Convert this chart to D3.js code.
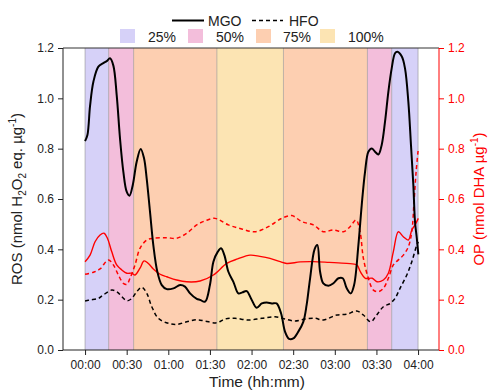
<!DOCTYPE html>
<html><head><meta charset="utf-8">
<script src="https://cdn.jsdelivr.net/npm/d3@7"></script>
<style>
body{margin:0;background:#fff;}
svg{display:block;font-family:Arial,"Liberation Sans",sans-serif;}
</style></head>
<body><svg id="c" width="488" height="390"></svg>
<script>
// ---- data (time in minutes) ----
const bandStarts = [0, 17, 35, 95, 143, 203.5, 221];
const bandEnds   = [17, 35, 95, 143, 203.5, 221, 240];
const bandLoads  = ["25%", "50%", "75%", "100%", "75%", "50%", "25%"];
const loadLabels = ["25%", "50%", "75%", "100%"];
const loadColors = ["#d6d1f8", "#f3bedb", "#fdcfb1", "#fce4b3"];

const mgoRosT = [0,1.7,3.6,6,9.6,13.2,15.6,18,20.4,22.8,25.2,27.6,30,32,34.4,37.2,40.1,42.5,44.4,46.8,49.2,52.1,55.3,58.9,63.7,68.5,72,75.7,80.5,82.9,86.5,90,92.5,95.6,98,100.4,103.3,106.9,110.5,113.4,116.5,119.6,123.7,127.4,130.9,134.6,138,141.3,144.1,147,150.1,153.7,157.3,159.7,162.2,165.4,167.4,169.4,171.7,175.4,179,182.6,185.7,188.6,191.5,193.9,197,199.4,201.8,204.2,206.6,209,211.4,213.8,216.2,218.6,221,223.4,225.1,228.3,230.6,233,234.9,236.6,237.8,239.1,240.2];
const mgoRosV = [0.83,0.854,0.97,1.066,1.126,1.14,1.148,1.159,1.13,1.013,0.84,0.708,0.629,0.613,0.656,0.748,0.799,0.762,0.682,0.55,0.417,0.311,0.258,0.242,0.245,0.258,0.252,0.225,0.203,0.199,0.192,0.258,0.351,0.39,0.404,0.377,0.311,0.271,0.225,0.229,0.234,0.205,0.168,0.185,0.189,0.185,0.185,0.145,0.073,0.044,0.046,0.073,0.112,0.179,0.285,0.4,0.417,0.311,0.265,0.255,0.265,0.285,0.285,0.245,0.225,0.258,0.417,0.576,0.708,0.788,0.801,0.788,0.777,0.815,0.907,1.026,1.119,1.179,1.185,1.166,1.119,0.987,0.815,0.656,0.51,0.444,0.38];

const hfoRosT = [0,3.6,9.6,13.2,19.2,22.8,30.1,33.7,37.3,40.9,44.5,48.1,52.8,60,66.1,73.3,80.5,86.5,94.9,100.9,108.1,117.7,127.4,136.9,144.1,151.4,158.6,165.8,171.7,181.4,188.6,195.8,200.6,205.9,210.2,215,219.8,223.4,227,231.9,235.5,239.1,240.2];
const hfoRosV = [0.195,0.199,0.205,0.219,0.238,0.232,0.196,0.205,0.232,0.249,0.225,0.172,0.126,0.106,0.102,0.112,0.12,0.115,0.108,0.123,0.126,0.119,0.126,0.132,0.123,0.115,0.123,0.126,0.119,0.139,0.142,0.155,0.139,0.112,0.139,0.172,0.185,0.205,0.245,0.298,0.351,0.417,0.43];

const mgoOpT = [0,3.6,7.2,10.8,13.7,16.1,19.2,22.8,26.5,30.1,33.7,36,39.6,42.5,45.6,49.2,54.1,58.9,66.1,73.3,82.9,92.5,102.1,110,118.9,126,133.3,140,145.4,155,164.5,176,188.6,195.8,198.5,202,207,210.4,215,218.6,222.2,225.8,229.4,233,235.5,237.8,240.2];
const mgoOpV = [0.351,0.377,0.43,0.457,0.464,0.444,0.391,0.338,0.318,0.305,0.305,0.298,0.325,0.354,0.344,0.322,0.301,0.291,0.278,0.271,0.274,0.298,0.344,0.362,0.377,0.372,0.364,0.352,0.344,0.35,0.351,0.348,0.344,0.338,0.31,0.285,0.285,0.271,0.278,0.305,0.391,0.47,0.45,0.437,0.477,0.497,0.523];

const hfoOpT = [0,6,10.8,16.8,20.4,24,27.6,30.1,32.4,36,39.6,44.5,49.2,58.9,66.1,73.3,80.5,86.5,93.7,103.3,112.9,122.5,132.1,141.8,149,156.2,164.5,171.7,179,186.2,191,195.3,198.2,200.6,204.2,207.8,211.4,215,218.6,222.2,225.8,229.4,233,235.5,237.1,238.6,240.2];
const hfoOpV = [0.301,0.309,0.322,0.358,0.338,0.298,0.265,0.261,0.285,0.338,0.404,0.437,0.444,0.446,0.444,0.464,0.497,0.513,0.523,0.497,0.481,0.47,0.49,0.523,0.534,0.51,0.497,0.47,0.477,0.47,0.49,0.517,0.47,0.364,0.285,0.238,0.232,0.245,0.285,0.338,0.358,0.377,0.41,0.47,0.589,0.708,0.801];

const xMajor = [0,30,60,90,120,150,180,210,240];
const yMajor = [0,0.2,0.4,0.6,0.8,1.0,1.2];

// ---- layout ----
const svg = d3.select("#c");
const L = 63, R = 439, T = 48, B = 350;
const x = d3.scaleLinear().domain([-15.9, 255.1]).range([L, R]);
const y = d3.scaleLinear().domain([0, 1.2]).range([B, T]);
const y2 = d3.scaleLinear().domain([0, 1.2]).range([B, T]);
const colorOf = l => loadColors[loadLabels.indexOf(l)];

// bands
const bands = bandStarts.map((s,i)=>({s, e: bandEnds[i], l: bandLoads[i]}));
svg.append("g").selectAll("rect").data(bands).join("rect")
  .attr("x", d=>x(d.s)).attr("width", d=>x(d.e)-x(d.s))
  .attr("y", T).attr("height", B-T).attr("fill", d=>colorOf(d.l));
const edges = Array.from(new Set(bandStarts.concat(bandEnds)));
svg.append("g").selectAll("line").data(edges).join("line")
  .attr("x1", d=>x(d)).attr("x2", d=>x(d)).attr("y1", T).attr("y2", B)
  .attr("stroke", "#8a8a8a").attr("stroke-opacity", 0.55).attr("stroke-width", 1);

// lines
const mk = (ts, vs) => ts.map((t,i)=>[t, vs[i]]);
const line = d3.line().x(d=>x(d[0])).y(d=>y(d[1])).curve(d3.curveCatmullRom.alpha(0.5));
const line2 = d3.line().x(d=>x(d[0])).y(d=>y2(d[1])).curve(d3.curveCatmullRom.alpha(0.5));
svg.append("path").attr("d", line2(mk(hfoOpT, hfoOpV))).attr("fill","none")
  .attr("stroke","#ff0000").attr("stroke-width",1.5).attr("stroke-dasharray","4,3");
svg.append("path").attr("d", line2(mk(mgoOpT, mgoOpV))).attr("fill","none")
  .attr("stroke","#ff0000").attr("stroke-width",1.4);
svg.append("path").attr("d", line(mk(hfoRosT, hfoRosV))).attr("fill","none")
  .attr("stroke","#000").attr("stroke-width",1.5).attr("stroke-dasharray","4,3");
svg.append("path").attr("d", line(mk(mgoRosT, mgoRosV))).attr("fill","none")
  .attr("stroke","#000").attr("stroke-width",2);

// frame top
svg.append("line").attr("x1",L).attr("x2",R).attr("y1",T).attr("y2",T).attr("stroke","#333").attr("stroke-width",1);

const fmt = m => String(Math.floor(m/60)).padStart(2,"0")+":"+String(m%60).padStart(2,"0");
const fs = "12px";

// x axis
const xMinor = d3.range(-15, 256, 15);
const gx = svg.append("g").attr("transform",`translate(0,${B})`);
gx.call(d3.axisBottom(x).tickValues(xMinor).tickSize(3).tickFormat(""));
gx.call(d3.axisBottom(x).tickValues(xMajor).tickSize(5).tickPadding(5).tickFormat(fmt));
gx.selectAll("text").attr("font-size",fs).attr("fill","#222").attr("font-family","Arial, Liberation Sans");
gx.selectAll("path").attr("d",`M${L},0H${R}`).attr("stroke","#222");
gx.selectAll("line").attr("stroke","#222");

// left y axis
const yMinor = d3.range(0, 1.21, 0.1);
const gy = svg.append("g").attr("transform",`translate(${L},0)`);
gy.call(d3.axisLeft(y).tickValues(yMinor).tickSize(3).tickFormat(""));
gy.call(d3.axisLeft(y).tickValues(yMajor).tickSize(5).tickPadding(4).tickFormat(d3.format(".1f")));
gy.selectAll("text").attr("font-size",fs).attr("fill","#222").attr("font-family","Arial, Liberation Sans");
gy.selectAll("path").attr("d",`M0,${B}V${T}`).attr("stroke","#222");
gy.selectAll("line").attr("stroke","#222");

// right y axis
const gr = svg.append("g").attr("transform",`translate(${R},0)`);
gr.call(d3.axisRight(y2).tickValues(yMinor).tickSize(3).tickFormat(""));
gr.call(d3.axisRight(y2).tickValues(yMajor).tickSize(5).tickPadding(4).tickFormat(d3.format(".1f")));
gr.selectAll("text").attr("font-size",fs).attr("fill","#ff0000").attr("font-family","Arial, Liberation Sans");
gr.selectAll("path").attr("d",`M0,${B}V${T}`).attr("stroke","#ff0000");
gr.selectAll("line").attr("stroke","#ff0000");

// titles
svg.append("text").attr("x",(L+R)/2+6).attr("y",387).attr("text-anchor","middle")
  .attr("font-size","15.5px").attr("fill","#222").text("Time (hh:mm)");
const yt = svg.append("text").attr("transform",`translate(22,${(T+B)/2}) rotate(-90)`)
  .attr("text-anchor","middle").attr("font-size","15px").attr("fill","#222");
yt.append("tspan").text("ROS (nmol H");
yt.append("tspan").attr("font-size","10px").attr("dy",4).text("2");
yt.append("tspan").attr("dy",-4).text("O");
yt.append("tspan").attr("font-size","10px").attr("dy",4).text("2");
yt.append("tspan").attr("dy",-4).text(" eq. µg");
yt.append("tspan").attr("font-size","10px").attr("dy",-6).text("-1");
yt.append("tspan").attr("dy",6).text(")");
const rt = svg.append("text").attr("transform",`translate(484,${(T+B)/2}) rotate(-90)`)
  .attr("text-anchor","middle").attr("font-size","15px").attr("fill","#ff0000");
rt.append("tspan").text("OP (nmol DHA µg");
rt.append("tspan").attr("font-size","10px").attr("dy",-6).text("-1");
rt.append("tspan").attr("dy",6).text(")");

// legend
const lg = svg.append("g").attr("font-size","14px").attr("fill","#222");
lg.append("line").attr("x1",172).attr("x2",204).attr("y1",20.5).attr("y2",20.5).attr("stroke","#000").attr("stroke-width",2);
lg.append("text").attr("x",208).attr("y",25.5).text("MGO");
lg.append("line").attr("x1",252).attr("x2",283).attr("y1",20.5).attr("y2",20.5).attr("stroke","#000").attr("stroke-width",1.5).attr("stroke-dasharray","4,3");
lg.append("text").attr("x",289).attr("y",25.5).text("HFO");
const swX = [120,188,256,320], txX = [148,216,283,348];
loadLabels.forEach((l,i)=>{
  lg.append("rect").attr("x",swX[i]).attr("y",29).attr("width",15).attr("height",14).attr("fill",loadColors[i]);
  lg.append("text").attr("x",txX[i]).attr("y",42).text(l);
});
</script></body></html>
